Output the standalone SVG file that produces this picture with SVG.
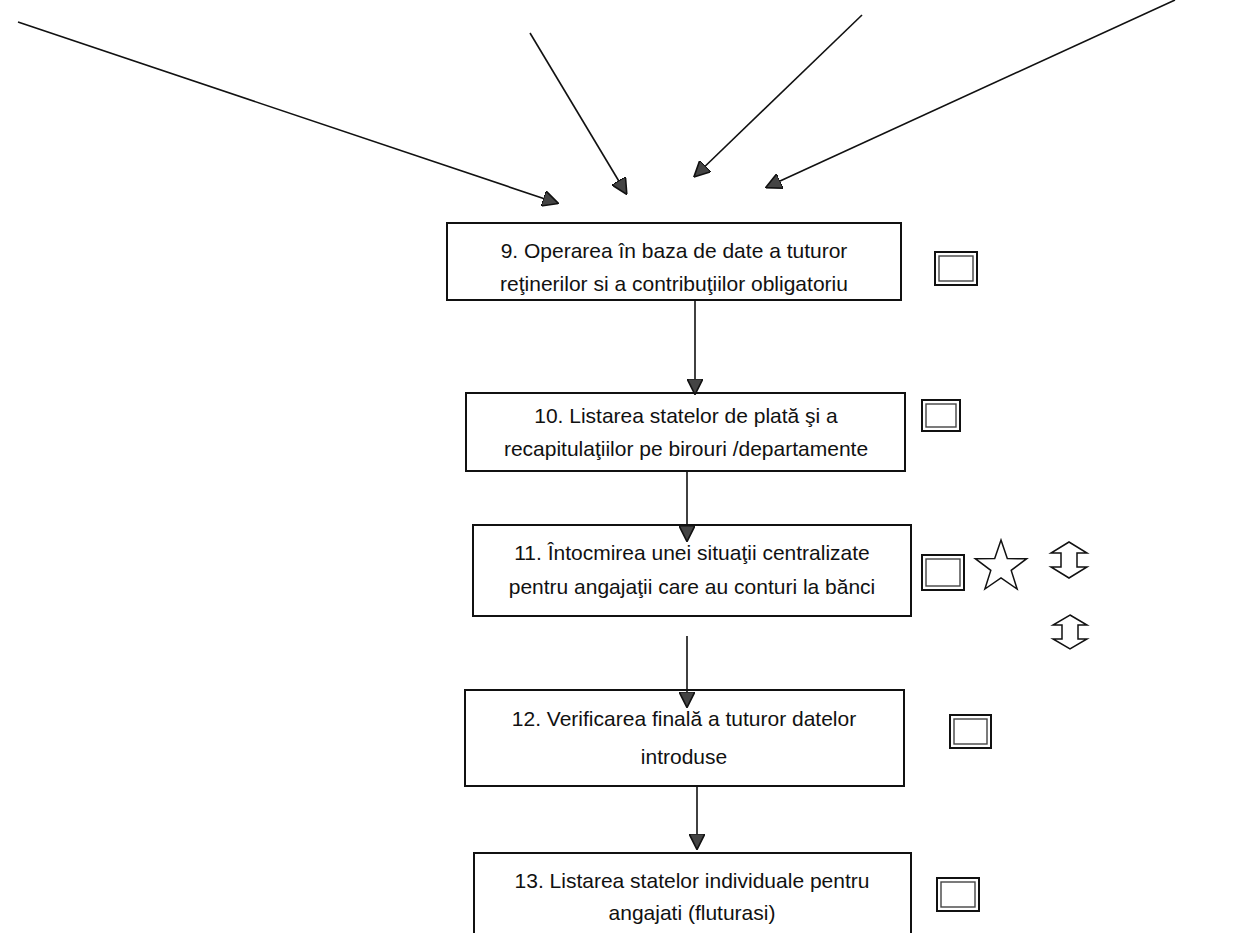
<svg xmlns="http://www.w3.org/2000/svg" width="1254" height="933" viewBox="0 0 1254 933">
<style>
.box{fill:#fff;stroke:#111;stroke-width:2}
.t{font-family:"Liberation Sans",Arial,sans-serif;font-size:21px;fill:#111;text-anchor:middle}
.ln{stroke:#111;stroke-width:1.6;fill:none}
.sq{fill:#fff;stroke:#111;stroke-width:2}
.sqi{fill:none;stroke:#444;stroke-width:1.4}
.sym{fill:#fff;stroke:#111;stroke-width:1.5}
</style>
<defs>
<marker id="ah" viewBox="0 0 10 10" refX="9" refY="5" markerWidth="16" markerHeight="16" markerUnits="userSpaceOnUse" orient="auto">
<path d="M0,0 L10,5 L0,10 z" fill="#444" stroke="#111" stroke-width="1"/>
</marker>
</defs>
<rect width="1254" height="933" fill="#fff"/>
<g id="node9">
<rect class="box" x="447" y="223" width="454" height="77"/>
<text class="t" x="674" y="258">9. Operarea în baza de date a tuturor</text>
<text class="t" x="674" y="291">reţinerilor si a contribuţiilor obligatoriu</text>
</g>
<g id="node10">
<rect class="box" x="466" y="393" width="439" height="78"/>
<text class="t" x="686" y="423">10. Listarea statelor de plată şi a</text>
<text class="t" x="686" y="456">recapitulaţiilor pe birouri /departamente</text>
</g>
<g id="node11">
<rect class="box" x="473" y="525" width="438" height="91"/>
<text class="t" x="692" y="560">11. Întocmirea unei situaţii centralizate</text>
<text class="t" x="692" y="594">pentru angajaţii care au conturi la bănci</text>
</g>
<g id="node12">
<rect class="box" x="465" y="690" width="439" height="96"/>
<text class="t" x="684" y="726">12. Verificarea finală a tuturor datelor</text>
<text class="t" x="684" y="764">introduse</text>
</g>
<g id="node13">
<rect class="box" x="474" y="853" width="437" height="90"/>
<text class="t" x="692" y="888">13. Listarea statelor individuale pentru</text>
<text class="t" x="692" y="920">angajati (fluturasi)</text>
</g>
<g id="connectors">
<line class="ln" x1="18" y1="22" x2="557" y2="203" marker-end="url(#ah)"/>
<line class="ln" x1="530" y1="33" x2="626" y2="193" marker-end="url(#ah)"/>
<line class="ln" x1="862" y1="15" x2="695" y2="176" marker-end="url(#ah)"/>
<line class="ln" x1="1175" y1="0" x2="767" y2="187" marker-end="url(#ah)"/>
<line class="ln" x1="695" y1="300" x2="695" y2="393" marker-end="url(#ah)"/>
<line class="ln" x1="687" y1="471" x2="687" y2="540" marker-end="url(#ah)"/>
<line class="ln" x1="687" y1="636" x2="687" y2="706" marker-end="url(#ah)"/>
<line class="ln" x1="697" y1="786" x2="697" y2="848" marker-end="url(#ah)"/>
</g>
<g id="squares">
<rect class="sq" x="935" y="252" width="42" height="33"/><rect class="sqi" x="939" y="256" width="34" height="25"/>
<rect class="sq" x="922" y="400" width="38" height="31"/><rect class="sqi" x="926" y="404" width="30" height="23"/>
<rect class="sq" x="922" y="555" width="42" height="35"/><rect class="sqi" x="926" y="559" width="34" height="27"/>
<rect class="sq" x="950" y="715" width="41" height="33"/><rect class="sqi" x="954" y="719" width="33" height="25"/>
<rect class="sq" x="937" y="878" width="42" height="33"/><rect class="sqi" x="941" y="882" width="34" height="25"/>
</g>
<g id="symbols">
<path class="sym" d="M1001,540 L1007.3,558.6 L1026.7,558.7 L1011.2,570.4 L1017.1,589 L1001,577.9 L984.9,589 L990.8,570.4 L975.3,558.7 L994.7,558.6 Z"/>
<path class="sym" d="M1069,542 L1087,553 L1077,553 L1077,567 L1087,567 L1069,578 L1051,567 L1061,567 L1061,553 L1051,553 Z"/>
<path class="sym" d="M1070,615 L1087,625 L1078,625 L1078,639 L1087,639 L1070,649 L1053,639 L1062,639 L1062,625 L1053,625 Z"/>
</g>
</svg>
